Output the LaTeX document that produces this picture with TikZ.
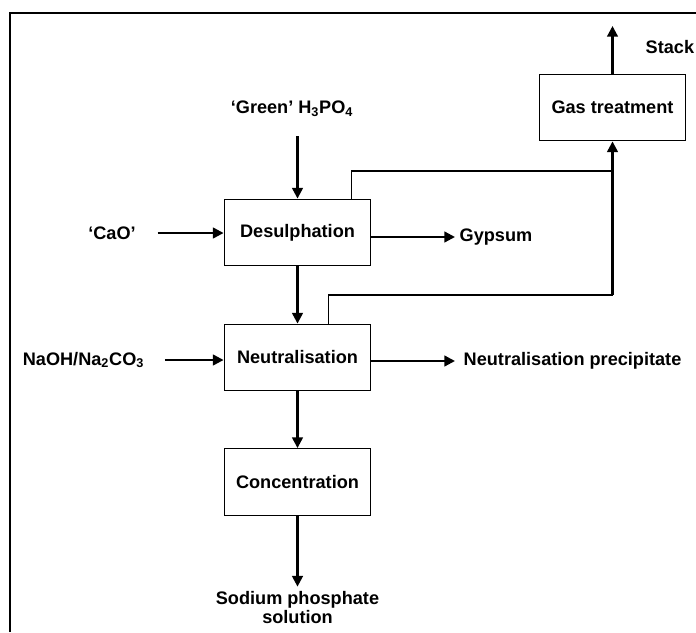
\documentclass[tikz,border=0pt]{standalone}
\usepackage{fontspec}
\setmainfont{Liberation Sans}
\usetikzlibrary{arrows.meta,positioning}

\begin{document}
\begin{tikzpicture}[
    x=0.75pt, y=-0.75pt,
    unit/.style={rectangle, draw, line width=0.9pt, minimum width=110pt,
        minimum height=50pt, inner sep=0pt,
        font=\bfseries\fontsize{13.6}{14.25}\selectfont},
    stream/.style={font=\bfseries\fontsize{13.6}{14.25}\selectfont, align=center},
    flow/.style={-{Triangle[length=8pt,width=8pt]}, line width=1.7pt},
    vent/.style={line width=0.8pt}
]
\useasboundingbox (0,0) rectangle (696,632);
\draw[line width=1.75pt] (10,632) -- (10,13) -- (696,13);

% process units
\node[unit] (desul) at (297.5,232.5) {Desulphation};
\node[unit] (neut) at (297.5,357.5) {Neutralisation};
\node[unit] (conc) at (297.5,482) {Concentration};
\node[unit] (gas) at (612.5,107.5) {Gas treatment};

% feeds and products
\node[stream] (green) at (292,109) {‘Green’ H\textsubscript{3}PO\textsubscript{4}};
\node[stream] (cao) at (112,233) {‘CaO’};
\node[stream] (naoh) at (83.5,360) {NaOH/Na\textsubscript{2}CO\textsubscript{3}};
\node[stream, anchor=west] (gyp) at (455,237) {Gypsum};
\node[stream, anchor=west] (precip) at (459,361) {Neutralisation precipitate};
\node[stream] (sodium) at (297.5,607.5) {Sodium phosphate\\solution};
\node[stream, anchor=west] (stack) at (641,47) {Stack};
\coordinate (stacktop) at (612.5,26);
\coordinate (j1) at (612.5,171);
\coordinate (j2) at (612.5,295);

\draw[flow, shorten <=11pt] (desul.north |- green.south) -- (desul.north);
\draw[flow, shorten <=13pt] (cao.east) -- (cao.east -| desul.west);
\draw[flow] (desul.east |- gyp.west) -- (gyp.west);
\draw[flow] (desul) -- (neut);
\draw[flow, shorten <=12pt] (naoh.east) -- (naoh.east -| neut.west);
\draw[flow, shorten >=3pt] (neut.east |- precip.west) -- (precip.west);
\draw[flow] (neut) -- (conc);
\draw[flow] (conc) -- (sodium.north);

% off-gas lines
\draw[vent] ([xshift=-15pt]desul.north east) |- (j1);
\draw[vent] ([xshift=23pt]neut.north) |- (j2);
\draw[flow] (j2) -- (gas.south);
\draw[flow] (gas.north) -- (stacktop);
\end{tikzpicture}
\end{document}
